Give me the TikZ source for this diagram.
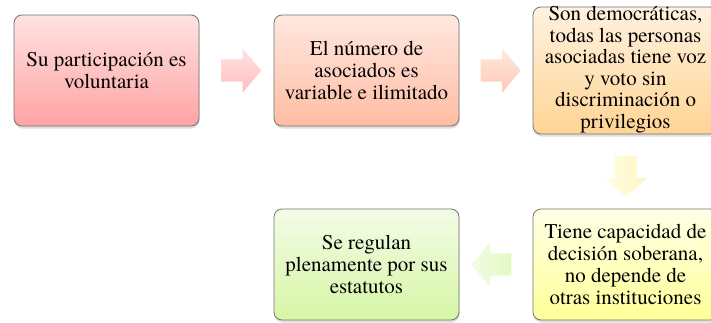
\documentclass[tikz,border=0pt]{standalone}
\usepackage{fontspec}
\setmainfont{TeX Gyre Termes}
\usetikzlibrary{shapes.arrows,shadows,calc}
\definecolor{pinktop}{HTML}{FFE2E2}
\definecolor{pinkbot}{HTML}{FFA3A3}
\definecolor{salmtop}{HTML}{FFE8E0}
\definecolor{salmbot}{HTML}{FFBCA3}
\definecolor{orgtop}{HTML}{FFF2E0}
\definecolor{orgbot}{HTML}{FFD494}
\definecolor{yeltop}{HTML}{FFFFE6}
\definecolor{yelbot}{HTML}{FFFF99}
\definecolor{grntop}{HTML}{F3FCE6}
\definecolor{grnbot}{HTML}{D6F6A6}

\begin{document}
\begin{tikzpicture}[x=1pt, y=1pt,
  box/.style={draw=black!55, line width=0.8pt, rounded corners=8pt,
    minimum width=185pt, minimum height=111pt, align=center,
    font=\rmfamily\fontsize{21}{22}\selectfont,
    drop shadow={opacity=0.25, shadow xshift=0.5pt, shadow yshift=-2.5pt}},
  boxtext/.style={align=center, font=\rmfamily\fontsize{21}{21.5}\selectfont},
  blockarrow/.style={single arrow, draw=none, minimum height=40pt,
    inner xsep=0pt, inner ysep=11pt, single arrow head extend=11pt,
    single arrow tip angle=100}]
\useasboundingbox (0,0) rectangle (711,322);
% boxes
\node[box, top color=pinktop, bottom color=pinkbot] (b1) at (106.5,251.5)
  {Su participación es\\voluntaria};
\node[box, top color=salmtop, bottom color=salmbot] (b2) at (366.5,251.5)
  {El número de\\asociados es\\variable e ilimitado};
\node[box, minimum height=127pt, top color=orgtop, bottom color=orgbot] (b3) at (625.5,251.5) {};
\node[boxtext] (t3) at (625.5,252.5)
  {Son democráticas,\\todas las personas\\asociadas tiene voz\\y voto sin\\discriminación o\\privilegios};
\node[box, top color=yeltop, bottom color=yelbot] (b4) at (625.5,57.5)
  {Tiene capacidad de\\decisión soberana,\\no depende de\\otras instituciones};
\node[box, top color=grntop, bottom color=grnbot] (b5) at (366.5,57.5)
  {Se regulan\\plenamente por sus\\estatutos};
% arrows
\node[blockarrow, top color=pinktop, bottom color=pinkbot!70!white] (a1) at ($(b1.east)!0.5!(b2.west)$) {};
\node[blockarrow, top color=salmtop, bottom color=salmbot!80!white] (a2) at ($(b2.east)!0.5!(b3.west)$) {};
\node[blockarrow, rotate=-90, left color=yeltop, right color=orgbot!40!yelbot!60!white] (a3) at ($(b3.south)!0.5!(b4.north)$) {};
\node[blockarrow, shape border rotate=180, left color=grntop, right color=grnbot!70!white] (a4) at ($(b4.west)!0.5!(b5.east)$) {};
\end{tikzpicture}
\end{document}
